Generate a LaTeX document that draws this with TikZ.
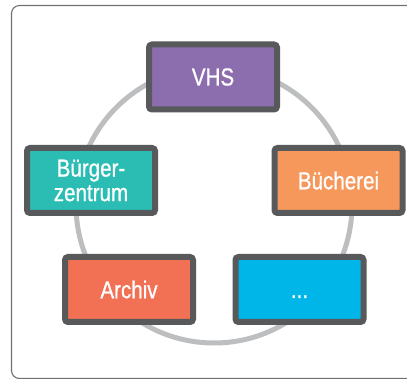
\documentclass[tikz,border=0pt]{standalone}
\usepackage{fontspec}
\setmainfont{Liberation Sans}[FakeStretch=0.84,FakeBold=0.8]
\definecolor{framec}{HTML}{707173}
\definecolor{ringc}{HTML}{BDBEC0}
\definecolor{borderc}{HTML}{58595B}
\definecolor{vhsc}{HTML}{8C6EAF}
\definecolor{buergerc}{HTML}{2BBDB4}
\definecolor{buechc}{HTML}{F6985B}
\definecolor{archivc}{HTML}{F27053}
\definecolor{morec}{HTML}{00B6E9}
\begin{document}
\begin{tikzpicture}[x=1pt,y=-1pt,
  unit/.style={draw=borderc, line width=6pt, rounded corners=3pt,
    minimum width=128pt, minimum height=65pt, inner sep=0pt,
    text=white, align=center, font=\fontsize{24.5}{24.5}\selectfont}]
\useasboundingbox (0,0) rectangle (407,379);
\clip (0,0) rectangle (407,379);
% outer frame, running past the right and bottom edges
\draw[framec, line width=1.1pt, rounded corners=8pt] (11.5,5.5) rectangle (440,378.5);
% ring linking the units
\draw[ringc, line width=5pt] (214,205) circle[radius=138];
% units on the ring
\node[unit, fill=vhsc] (vhs) at (213,77) {VHS};
\node[unit, fill=buergerc] (buerger) at (91,180.5) {Bürger-\\zentrum};
\node[unit, fill=buechc] (buecherei) at (338.5,180.5) {Bücherei};
\node[unit, fill=archivc] (archiv) at (129,289.5) {Archiv};
\node[unit, fill=morec] (more) at (299.5,289.5) {\vphantom{A}...};
\end{tikzpicture}
\end{document}
